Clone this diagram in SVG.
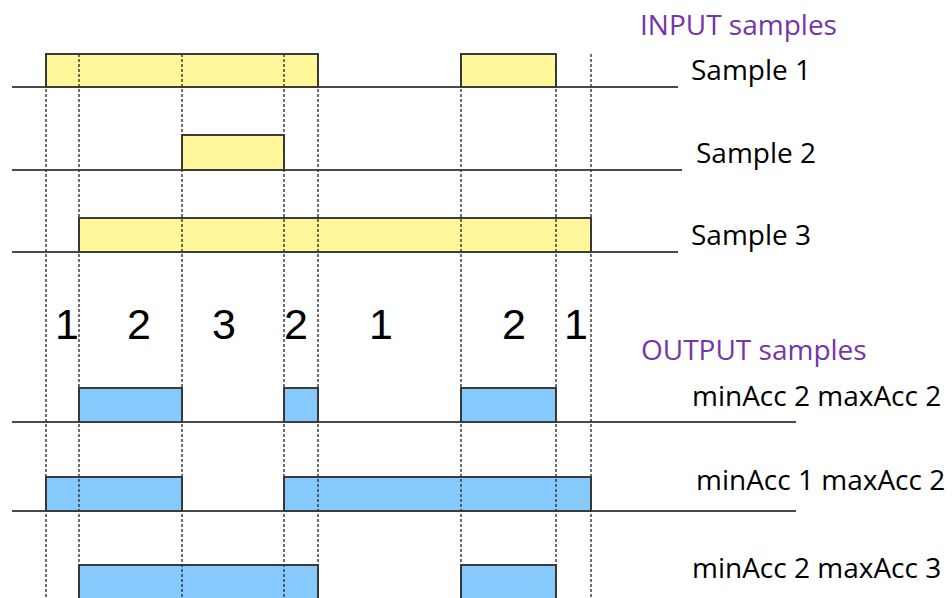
<svg xmlns="http://www.w3.org/2000/svg" width="952" height="598" viewBox="0 0 952 598">
  <style>
    .base { stroke: #4a4a4a; stroke-width: 2; fill: none; }
    .yel { fill: #FFF79A; stroke: #3c3c3c; stroke-width: 2; }
    .blu { fill: #86C9FC; stroke: #3c3c3c; stroke-width: 2; }
    .dash { stroke: #333333; stroke-width: 1.4; stroke-dasharray: 3 2; fill: none; }
    .lbl { font-family: "Open Sans", "Noto Sans", sans-serif; font-size: 28px; fill: #000000; }
    .head { font-family: "Open Sans", "Noto Sans", sans-serif; font-size: 28px; fill: #7535A8; }
    .num { font-family: "Liberation Sans", Arial, sans-serif; font-size: 43px; fill: #000000; text-anchor: middle; }
  </style>
  <rect width="952" height="598" fill="#ffffff"/>

  <g id="input-sample1">
    <line class="base" x1="12" y1="87" x2="678" y2="87"/>
    <rect class="yel" x="46" y="54" width="272" height="33"/>
    <rect class="yel" x="461" y="54" width="95" height="33"/>
    <text class="lbl" x="691" y="80">Sample 1</text>
  </g>
  <g id="input-sample2">
    <line class="base" x1="12" y1="170" x2="682" y2="170"/>
    <rect class="yel" x="182" y="135" width="102" height="35"/>
    <text class="lbl" x="696" y="163">Sample 2</text>
  </g>
  <g id="input-sample3">
    <line class="base" x1="12" y1="252" x2="678" y2="252"/>
    <rect class="yel" x="79" y="218" width="512" height="34"/>
    <text class="lbl" x="691" y="245">Sample 3</text>
  </g>

  <g id="output-row1">
    <line class="base" x1="12" y1="422" x2="796" y2="422"/>
    <rect class="blu" x="79" y="388" width="103" height="34"/>
    <rect class="blu" x="284" y="388" width="34" height="34"/>
    <rect class="blu" x="461" y="388" width="95" height="34"/>
    <text class="lbl" x="692" y="406">minAcc 2 maxAcc 2</text>
  </g>
  <g id="output-row2">
    <line class="base" x1="12" y1="511" x2="796" y2="511"/>
    <rect class="blu" x="46" y="477" width="136" height="34"/>
    <rect class="blu" x="284" y="477" width="307" height="34"/>
    <text class="lbl" x="696" y="490">minAcc 1 maxAcc 2</text>
  </g>
  <g id="output-row3">
    <line class="base" x1="12" y1="599" x2="796" y2="599"/>
    <rect class="blu" x="79" y="565" width="239" height="34"/>
    <rect class="blu" x="461" y="565" width="95" height="34"/>
    <text class="lbl" x="692" y="578">minAcc 2 maxAcc 3</text>
  </g>

  <g id="connectors">
    <line class="dash" x1="46" y1="54" x2="46" y2="598"/>
    <line class="dash" x1="79" y1="54" x2="79" y2="598"/>
    <line class="dash" x1="182" y1="54" x2="182" y2="598"/>
    <line class="dash" x1="284" y1="54" x2="284" y2="598"/>
    <line class="dash" x1="318" y1="54" x2="318" y2="598"/>
    <line class="dash" x1="461" y1="54" x2="461" y2="598"/>
    <line class="dash" x1="556" y1="54" x2="556" y2="598"/>
    <line class="dash" x1="591" y1="54" x2="591" y2="598"/>
  </g>

  <g id="counts">
    <text class="num" x="67" y="339">1</text>
    <text class="num" x="139" y="339">2</text>
    <text class="num" x="224" y="339">3</text>
    <text class="num" x="296" y="339">2</text>
    <text class="num" x="381" y="339">1</text>
    <text class="num" x="514" y="339">2</text>
    <text class="num" x="576" y="339">1</text>
  </g>

  <g id="headings">
    <text class="head" x="640" y="35">INPUT samples</text>
    <text class="head" x="641" y="360">OUTPUT samples</text>
  </g>
</svg>
